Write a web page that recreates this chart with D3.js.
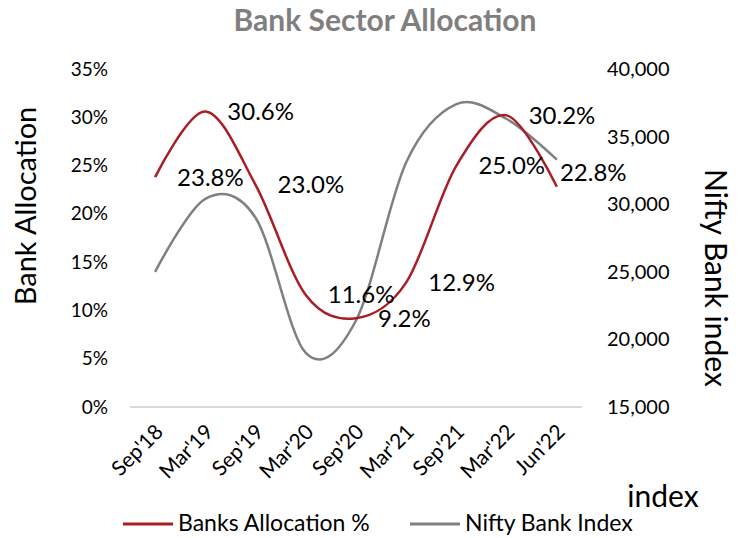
<!DOCTYPE html>
<html>
<head>
<meta charset="utf-8">
<script src="https://cdn.jsdelivr.net/npm/d3@7"></script>
<style>
  body { margin: 0; background: #fff; }
  text { font-family: Lato, "Open Sans", sans-serif; }
</style>
</head>
<body>
<div id="chart"></div>
<script>
// chart data
var periods = ["Sep'18", "Mar'19", "Sep'19", "Mar'20", "Sep'20", "Mar'21", "Sep'21", "Mar'22", "Jun'22"];
var bankAllocation = [23.8, 30.6, 23.0, 11.6, 9.2, 12.9, 25.0, 30.2, 22.8];
var niftyBank = [25000, 30400, 29000, 19000, 21400, 33100, 37400, 36300, 33300];
var leftTicks = [0, 5, 10, 15, 20, 25, 30, 35];
var rightTicks = [15000, 20000, 25000, 30000, 35000, 40000];

var width = 744, height = 538;
var plot = { left: 130, right: 582, top: 69, bottom: 407 };

var svg = d3.select("#chart").append("svg")
  .attr("width", width)
  .attr("height", height);

var x = d3.scalePoint().domain(periods).range([plot.left, plot.right]).padding(0.5);
var yLeft = d3.scaleLinear().domain([0, 35]).range([plot.bottom, plot.top]);
var yRight = d3.scaleLinear().domain([15000, 40000]).range([plot.bottom, plot.top]);

// title
svg.append("text")
  .attr("x", 385).attr("y", 31)
  .attr("text-anchor", "middle")
  .style("font-size", "30px").style("font-weight", "bold")
  .style("fill", "#7f7f7f")
  .text("Bank Sector Allocation");

// baseline
svg.append("line")
  .attr("x1", plot.left).attr("x2", plot.right)
  .attr("y1", plot.bottom).attr("y2", plot.bottom)
  .style("stroke", "#d9d9d9").style("stroke-width", 2);

// left axis
var leftAxis = d3.axisLeft(yLeft).tickValues(leftTicks).tickSize(0).tickPadding(0)
  .tickFormat(function (d) { return d + "%"; });
var gl = svg.append("g").attr("transform", "translate(108,0)").call(leftAxis);
gl.select(".domain").remove();
gl.selectAll("text").style("font-size", "19px").style("fill", "#000").style("font-family", "Lato, sans-serif");

// right axis
var rightAxis = d3.axisRight(yRight).tickValues(rightTicks).tickSize(0).tickPadding(0)
  .tickFormat(d3.format(","));
var gr = svg.append("g").attr("transform", "translate(607,0)").call(rightAxis);
gr.select(".domain").remove();
gr.selectAll("text").style("font-size", "20px").style("fill", "#000").style("font-family", "Lato, sans-serif");

// x axis labels, rotated
svg.append("g").selectAll("text")
  .data(periods)
  .enter().append("text")
  .attr("transform", function (d) { return "translate(" + (x(d) + 4) + ",428) rotate(-45)"; })
  .attr("text-anchor", "end")
  .attr("dy", "0.35em")
  .style("font-size", "21px")
  .text(function (d) { return d; });

// axis titles
svg.append("text")
  .attr("transform", "translate(36,206) rotate(-90)")
  .attr("text-anchor", "middle")
  .style("font-size", "29px")
  .text("Bank Allocation");

svg.append("text")
  .attr("transform", "translate(705,278) rotate(90)")
  .attr("text-anchor", "middle")
  .style("font-size", "30px")
  .text("Nifty Bank index");

svg.append("text")
  .attr("x", 663).attr("y", 507)
  .attr("text-anchor", "middle")
  .style("font-size", "30px")
  .text("index");

// lines
var curve = d3.curveCatmullRom.alpha(0);

var niftyLine = d3.line()
  .x(function (d, i) { return x(periods[i]); })
  .y(function (d) { return yRight(d); })
  .curve(curve);

var bankLine = d3.line()
  .x(function (d, i) { return x(periods[i]); })
  .y(function (d) { return yLeft(d); })
  .curve(curve);

svg.append("path")
  .datum(niftyBank)
  .attr("d", niftyLine)
  .style("fill", "none").style("stroke", "#808080").style("stroke-width", 2.5);

svg.append("path")
  .datum(bankAllocation)
  .attr("d", bankLine)
  .style("fill", "none").style("stroke", "#a91e24").style("stroke-width", 2.5);

// data labels (to the right of each point; last one nudged up like the original)
svg.append("g").selectAll("text")
  .data(bankAllocation)
  .enter().append("text")
  .attr("x", function (d, i) { return x(periods[i]) + (i === periods.length - 1 ? 3 : 22); })
  .attr("y", function (d, i) { return yLeft(d) - (i === periods.length - 1 ? 14 : 0); })
  .attr("dy", "0.35em")
  .style("font-size", "24px")
  .text(function (d) { return d.toFixed(1) + "%"; });

// legend
var legend = [
  { name: "Banks Allocation %", color: "#a91e24", x: 123 },
  { name: "Nifty Bank Index", color: "#808080", x: 410 }
];
var lg = svg.append("g").selectAll("g").data(legend).enter().append("g")
  .attr("transform", function (d) { return "translate(" + d.x + ",524)"; });
lg.append("line")
  .attr("x1", 0).attr("x2", 50).attr("y1", 0).attr("y2", 0)
  .style("stroke", function (d) { return d.color; }).style("stroke-width", 3);
lg.append("text")
  .attr("x", 55).attr("dy", "0.3em")
  .style("font-size", "23px")
  .text(function (d) { return d.name; });
</script>
</body>
</html>
